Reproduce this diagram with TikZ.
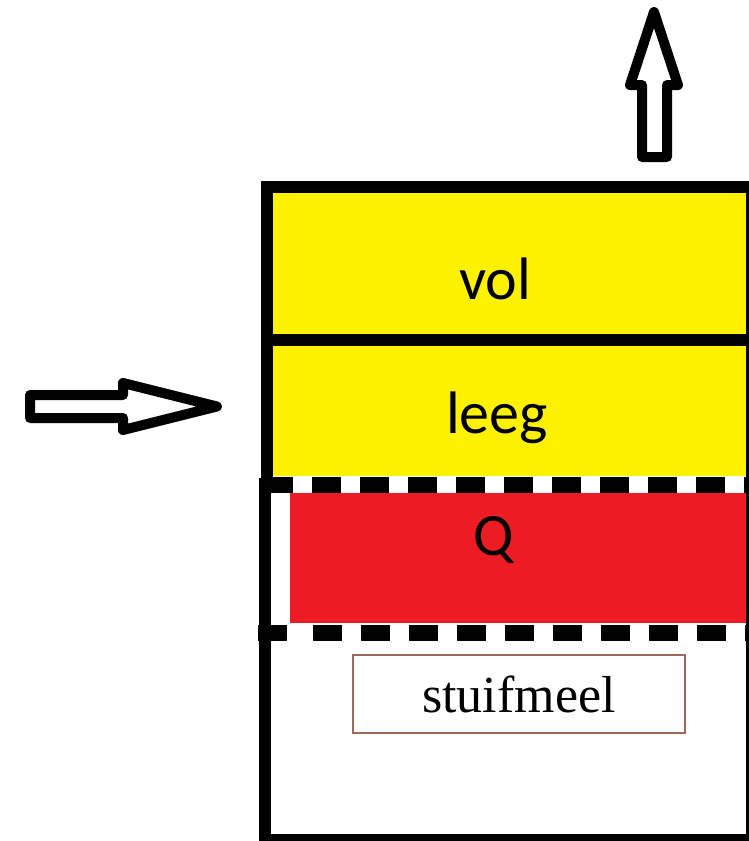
\documentclass[tikz,border=0pt]{standalone}
\usepackage{fontspec}
\setmainfont{Liberation Serif}
\newfontfamily\carlito{Carlito}
\definecolor{paintyellow}{RGB}{255,242,0}
\definecolor{paintred}{RGB}{237,28,36}
\definecolor{boxbrown}{RGB}{160,104,88}

\begin{document}
\begin{tikzpicture}[x=1pt,y=-1pt,
        laag/.style={font=\carlito\fontsize{60}{72}\selectfont,anchor=base,inner sep=0pt},
        pijl/.style={draw=black,line width=10pt,fill=white,line join=round},
        rand/.style={-,line width=12pt},
        grens/.style={-,line width=16pt,dash pattern=on 29pt off 19pt}]
        \useasboundingbox (0,0) rectangle (749,841);

        \fill[paintyellow](267,187) rectangle (752,476);
        \fill[paintred](290,493) rectangle (752,623);

        \draw[rand](267,181)--(267,484);
        \draw[rand](261,187)--(758,187);
        \draw[rand](261,340)--(758,340);
        \draw[rand](265,478)--(265,847);
        \draw[rand](259,840)--(758,840);
        \draw[rand](752,181)--(752,847);

        \draw[grens,dash phase=6pt](270,484.5)--(749,484.5);
        \draw[grens,dash phase=0pt](258,632.5)--(292,632.5);
        \draw[grens,dash phase=0pt](313,632.5)--(749,632.5);

        \node[laag] (vol) at (495,299) {vol};
        \node[laag] (leeg) at (497,433) {leeg};
        \node[laag] (q) at (494,555) {Q};

        \node[draw=boxbrown,line width=1.5pt,minimum width=332pt,minimum height=78pt,
              font=\fontsize{52}{60}\selectfont] (stuifmeel) at (519,694) {stuifmeel};

        \draw[pijl](30,395)--(123,395)--(123,383)--(217,406.5)--(123,430)--(123,418)--(30,418)--cycle;
        \draw[pijl](642,157)--(642,85)--(630,85)--(654,12)--(678,85)--(667,85)--(667,157)--cycle;
    \end{tikzpicture}
\end{document}
